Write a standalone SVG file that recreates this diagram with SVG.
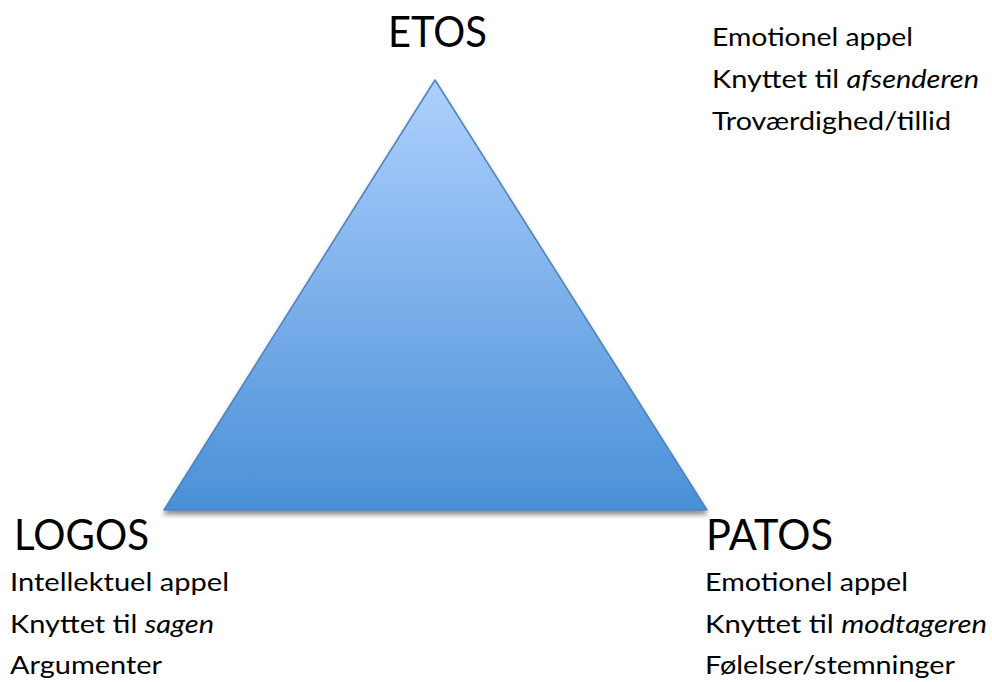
<svg xmlns="http://www.w3.org/2000/svg" width="992" height="682" viewBox="0 0 992 682">
<defs>
<linearGradient id="g" x1="0" y1="0" x2="0" y2="1">
<stop offset="0" stop-color="#aed0fd"/>
<stop offset="1" stop-color="#4a90d8"/>
</linearGradient>
<filter id="sh" x="-10%" y="-10%" width="120%" height="130%">
<feGaussianBlur in="SourceAlpha" stdDeviation="2.5"/>
<feOffset dx="0" dy="4" result="b"/>
<feComponentTransfer><feFuncA type="linear" slope="0.45"/></feComponentTransfer>
<feMerge><feMergeNode/><feMergeNode in="SourceGraphic"/></feMerge>
</filter>
</defs>
<style>
.big{font-family:Lato,"Open Sans","Liberation Sans",sans-serif;font-size:42px;fill:#000}
.sm{font-family:Lato,"Open Sans","Liberation Sans",sans-serif;font-size:25px;fill:#000}
.it{font-style:italic}
</style>
<rect width="992" height="682" fill="#fff"/>
<g id="triangle">
<polygon points="435,80 707,510 164,510" fill="url(#g)" stroke="#4f81bd" stroke-width="1.5" stroke-linejoin="round" filter="url(#sh)"/>
</g>
<g id="etos">
<text class="big" x="388" y="47" textLength="99" lengthAdjust="spacingAndGlyphs">ETOS</text>
<text class="sm" x="712" y="46" textLength="201" lengthAdjust="spacingAndGlyphs">Emotionel appel</text>
<text class="sm" x="712" y="88" textLength="267" lengthAdjust="spacingAndGlyphs">Knyttet til <tspan class="it">afsenderen</tspan></text>
<text class="sm" x="712" y="130" textLength="239" lengthAdjust="spacingAndGlyphs">Troværdighed/tillid</text>
</g>
<g id="logos">
<text class="big" x="14" y="550" textLength="135" lengthAdjust="spacingAndGlyphs">LOGOS</text>
<text class="sm" x="10" y="591" textLength="219" lengthAdjust="spacingAndGlyphs">Intellektuel appel</text>
<text class="sm" x="10" y="633" textLength="204" lengthAdjust="spacingAndGlyphs">Knyttet til <tspan class="it">sagen</tspan></text>
<text class="sm" x="10" y="674" textLength="152" lengthAdjust="spacingAndGlyphs">Argumenter</text>
</g>
<g id="patos">
<text class="big" x="706" y="550" textLength="127" lengthAdjust="spacingAndGlyphs">PATOS</text>
<text class="sm" x="705" y="591" textLength="203" lengthAdjust="spacingAndGlyphs">Emotionel appel</text>
<text class="sm" x="705" y="633" textLength="282" lengthAdjust="spacingAndGlyphs">Knyttet til <tspan class="it">modtageren</tspan></text>
<text class="sm" x="705" y="674" textLength="250" lengthAdjust="spacingAndGlyphs">Følelser/stemninger</text>
</g>
<g id="connectors"></g>
</svg>
